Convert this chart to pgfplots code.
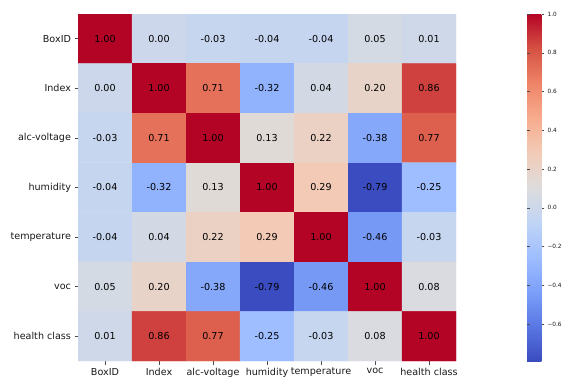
\documentclass[border=0pt]{standalone}
\usepackage{pgfplots}
\usepackage{pgfplotstable}
\pgfplotsset{compat=1.18}
\usepackage{fontspec}
\setmainfont{DejaVu Sans}

\pgfplotstableread{
x y c
0 0 1.00
1 0 0.00
2 0 -0.03
3 0 -0.04
4 0 -0.04
5 0 0.05
6 0 0.01
0 1 0.00
1 1 1.00
2 1 0.71
3 1 -0.32
4 1 0.04
5 1 0.20
6 1 0.86
0 2 -0.03
1 2 0.71
2 2 1.00
3 2 0.13
4 2 0.22
5 2 -0.38
6 2 0.77
0 3 -0.04
1 3 -0.32
2 3 0.13
3 3 1.00
4 3 0.29
5 3 -0.79
6 3 -0.25
0 4 -0.04
1 4 0.04
2 4 0.22
3 4 0.29
4 4 1.00
5 4 -0.46
6 4 -0.03
0 5 0.05
1 5 0.20
2 5 -0.38
3 5 -0.79
4 5 -0.46
5 5 1.00
6 5 0.08
0 6 0.01
1 6 0.86
2 6 0.77
3 6 -0.25
4 6 -0.03
5 6 0.08
6 6 1.00
}\corr

\begin{document}
\begin{tikzpicture}
\useasboundingbox (0pt,0pt) rectangle (573pt,386pt);
\begin{axis}[
  at={(267pt,198.5pt)}, anchor=center,
  scale only axis, width=378pt, height=347pt,
  xmin=-0.5, xmax=6.5, ymin=-0.5, ymax=6.5,
  y dir=reverse,
  xtick={0,...,6}, ytick={0,...,6},
  xticklabels={BoxID,Index,alc-voltage,humidity,temperature,voc,health class},
  yticklabels={BoxID,Index,alc-voltage,humidity,temperature,voc,health class},
  tick label style={font=\fontsize{9.6}{11}\selectfont, text=black!90},
  axis line style={draw=none},
  tick align=outside, xtick pos=bottom, ytick pos=left,
  major tick length=3.5pt,
  tick style={black!70, line width=0.6pt},
  colormap={coolwarm}{
    HTML=(3B4CC0) HTML=(5977E3) HTML=(7B9FF9) HTML=(9EBEFF) HTML=(C0D4F5)
    HTML=(DDDCDC) HTML=(F2CBB7) HTML=(F7AC8E) HTML=(EE8468) HTML=(D65244) HTML=(B40426)},
  point meta min=-0.79, point meta max=1.0,
  colorbar,
  colorbar style={
    at={(parent axis.east)}, anchor=west, xshift=62.5pt,
    scale only axis, width=17pt, height=347pt,
    y dir=normal,
    ytick={-0.6,-0.4,-0.2,0,0.2,0.4,0.6,0.8,1.0},
    yticklabels={−0.6,−0.4,−0.2,0.0,0.2,0.4,0.6,0.8,1.0},
    yticklabel style={font=\fontsize{5.8}{6}\selectfont},
    major tick length=2.5pt,
    tick style={black!70, line width=0.5pt},
    axis line style={draw=none},
  },
]
\addplot[matrix plot*, mesh/cols=7, mesh/rows=7, point meta=explicit,
  nodes near coords={\pgfmathprintnumber[fixed,fixed zerofill,precision=2,assume math mode=true]{\pgfplotspointmeta}},
  nodes near coords align=center,
  every node near coord/.append style={text=black, font=\fontsize{9.6}{11}\selectfont}]
  table[meta=c]{\corr};
\end{axis}
\end{tikzpicture}
\end{document}
